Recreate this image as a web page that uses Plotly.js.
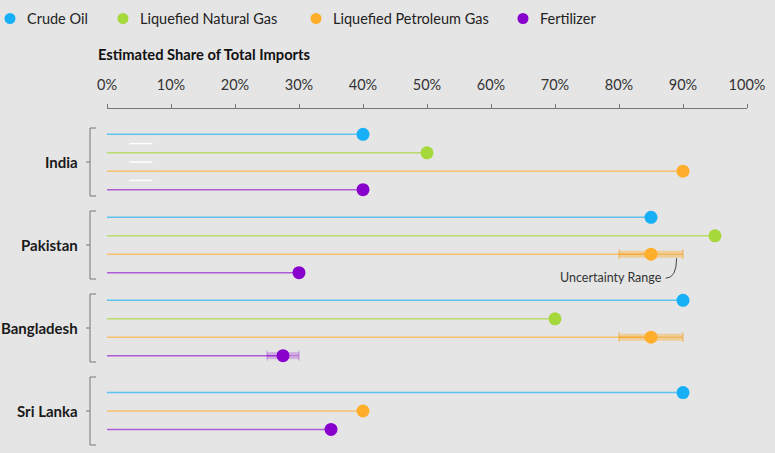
<!DOCTYPE html>
<html>
<head>
<meta charset="utf-8">
<script src="https://cdn.plot.ly/plotly-3.0.1.min.js"></script>
<style>
  html, body { margin: 0; padding: 0; background: #e5e5e5; }
  #chart { width: 775px; height: 453px; }
</style>
</head>
<body>
<div id="chart"></div>
<script>
// ---- data -------------------------------------------------------------
const countries = ['India', 'Pakistan', 'Bangladesh', 'Sri Lanka'];
const seriesNames = ['Crude Oil', 'Liquefied Natural Gas', 'Liquefied Petroleum Gas', 'Fertilizer'];

// estimated share of total imports (%), one value per country
const crudeOil     = [40, 85, 90, 90];
const naturalGas   = [50, 95, 70, null];
const petroleumGas = [90, 85, 85, 40];
const fertilizer   = [40, 30, 27.5, 35];

// uncertainty ranges (%)
const lpgLow   = [null, 80, 80, null];
const lpgHigh  = [null, 90, 90, null];
const fertLow  = [null, null, 25, null];
const fertHigh = [null, null, 30, null];

const xTickVals   = [0, 10, 20, 30, 40, 50, 60, 70, 80, 90, 100];
const xTickLabels = ['0%', '10%', '20%', '30%', '40%', '50%', '60%', '70%', '80%', '90%', '100%'];

// ---- styling ----------------------------------------------------------
const FONT = 'Lato, "Open Sans", sans-serif';
const dotColors  = ['#17b0f7', '#a5d83a', '#ffae2c', '#8800cc'];
const lineColors = ['rgba(23,176,247,0.65)', 'rgba(165,216,58,0.7)', 'rgba(255,174,44,0.65)', 'rgba(136,0,204,0.6)'];
const bandColors = [null, null, 'rgba(255,174,44,0.42)', 'rgba(136,0,204,0.24)'];
const capColors  = [null, null, 'rgba(240,160,40,0.7)', 'rgba(136,0,204,0.35)'];

const allSeries = [crudeOil, naturalGas, petroleumGas, fertilizer];
const lows  = [null, null, lpgLow, fertLow];
const highs = [null, null, lpgHigh, fertHigh];

// vertical layout: one unit per country group, rows stacked around the centre
const rowStep = 0.222;
const yRange = [3.506, -0.6386];           // reversed: first country at the top
const pxPerUnit = 83;

// row position of series s within country c (only series with a value take a row)
function rowY(c, s) {
  const present = allSeries.map((arr, i) => arr[c] != null ? i : -1).filter(i => i >= 0);
  const k = present.indexOf(s);
  return c + (k - (present.length - 1) / 2) * rowStep;
}
const toPaperY = v => (v - yRange[0]) / (yRange[1] - yRange[0]);

const traces = [];

// stems from 0 to each value
allSeries.forEach((vals, s) => {
  const x = [], y = [];
  vals.forEach((v, c) => {
    if (v == null) return;
    const yy = rowY(c, s);
    x.push(0, v, null); y.push(yy, yy, null);
  });
  traces.push({
    type: 'scatter', mode: 'lines', x, y, showlegend: false, hoverinfo: 'skip',
    line: { color: lineColors[s], width: 1.5 }, cliponaxis: false
  });
});

// uncertainty bands
allSeries.forEach((vals, s) => {
  if (!lows[s]) return;
  const x = [], y = [];
  vals.forEach((v, c) => {
    if (lows[s][c] == null) return;
    const yy = rowY(c, s);
    x.push(lows[s][c], highs[s][c], null); y.push(yy, yy, null);
  });
  traces.push({
    type: 'scatter', mode: 'lines', x, y, showlegend: false, hoverinfo: 'skip',
    line: { color: bandColors[s], width: 7 }, cliponaxis: false
  });
});

// dots with range end caps
allSeries.forEach((vals, s) => {
  const x = [], y = [], plus = [], minus = [];
  vals.forEach((v, c) => {
    if (v == null) return;
    x.push(v); y.push(rowY(c, s));
    if (lows[s] && lows[s][c] != null) {
      plus.push(highs[s][c] - v); minus.push(v - lows[s][c]);
    } else {
      plus.push(null); minus.push(null);
    }
  });
  const tr = {
    type: 'scatter', mode: 'markers', name: seriesNames[s], x, y, showlegend: false,
    marker: { color: dotColors[s], size: 13 },
    cliponaxis: false,
    hovertemplate: '%{x}%<extra>' + seriesNames[s] + '</extra>'
  };
  if (lows[s]) {
    tr.error_x = {
      type: 'data', symmetric: false, array: plus, arrayminus: minus,
      color: capColors[s], thickness: 1, width: 5, visible: true
    };
  }
  traces.push(tr);
});

// ---- labels, brackets, key ----------------------------------------------
const annotations = [];
const shapes = [];
const W = 775, H = 453;
const plotLeft = 107, plotWidth = 640, plotTop = 109, plotHeight = 344;
const pxToPaperX = px => (px - plotLeft) / plotWidth;
const pxToPaperY = py => 1 - (py - plotTop) / plotHeight;

countries.forEach((name, c) => {
  annotations.push({
    text: name, xref: 'paper', yref: 'y', x: pxToPaperX(80), y: c,
    xanchor: 'right', yanchor: 'middle', showarrow: false,
    font: { family: FONT, size: 15, color: '#1a1a1a', weight: 700 }
  });
  const half = 34 / pxPerUnit;
  const yt = toPaperY(c - half), yb = toPaperY(c + half), ym = toPaperY(c);
  const xb = pxToPaperX(90), xs = pxToPaperX(96), xt = pxToPaperX(86);
  shapes.push({
    type: 'path', xref: 'paper', yref: 'paper',
    path: `M ${xs},${yt} L ${xb},${yt} L ${xb},${yb} L ${xs},${yb} M ${xb},${ym} L ${xt},${ym}`,
    line: { color: '#777', width: 1 }
  });
});

// light separators between the rows of the first group
[0, 1, 2].forEach(i => {
  const yy = rowY(0, 0) + (i + 0.5) * rowStep;
  shapes.push({
    type: 'line', xref: 'x', yref: 'y', x0: 3.5, x1: 7.1, y0: yy, y1: yy,
    line: { color: '#ffffff', width: 1.5 }
  });
});

// key across the top: dot + name for every series
const keyDotX = [10, 123, 316, 523];
const keyY = 18.5;
seriesNames.forEach((name, s) => {
  shapes.push({
    type: 'circle', xref: 'paper', yref: 'paper',
    xsizemode: 'pixel', ysizemode: 'pixel',
    xanchor: pxToPaperX(keyDotX[s]), yanchor: pxToPaperY(keyY),
    x0: -5.5, x1: 5.5, y0: -5.5, y1: 5.5,
    fillcolor: dotColors[s], line: { width: 0 }
  });
  annotations.push({
    text: name, xref: 'paper', yref: 'paper',
    x: pxToPaperX(keyDotX[s] + 15), y: pxToPaperY(keyY), xanchor: 'left', yanchor: 'middle',
    showarrow: false, font: { family: FONT, size: 14.5, color: '#222' }
  });
});

// axis title
annotations.push({
  text: 'Estimated Share of Total Imports', xref: 'paper', yref: 'paper',
  x: pxToPaperX(96), y: pxToPaperY(54), xanchor: 'left', yanchor: 'middle',
  showarrow: false, font: { family: FONT, size: 14.7, color: '#111', weight: 700 }
});

// callout for the Pakistan LPG range
const calloutX = highs[2][1] - 1, calloutY = rowY(1, 2);
const ux = 1 / 6.4, uy = 1 / pxPerUnit;   // one pixel in data units
annotations.push({
  text: 'Uncertainty Range', xref: 'x', yref: 'y',
  x: calloutX - 13 * ux, y: calloutY + 23 * uy, xanchor: 'right', yanchor: 'middle',
  showarrow: false, font: { family: FONT, size: 12.5, color: '#333' }
});
shapes.push({
  type: 'path', xref: 'x', yref: 'y',
  path: `M ${calloutX - 11 * ux},${calloutY + 24 * uy} Q ${calloutX},${calloutY + 24 * uy} ${calloutX},${calloutY + 4 * uy}`,
  line: { color: '#444', width: 1 }
});

const layout = {
  width: W, height: H,
  paper_bgcolor: '#e5e5e5', plot_bgcolor: '#e5e5e5',
  margin: { l: plotLeft, r: W - plotLeft - plotWidth, t: plotTop, b: H - plotTop - plotHeight },
  font: { family: FONT, color: '#333' },
  showlegend: false,
  xaxis: {
    side: 'top', range: [0, 100], tickvals: xTickVals, ticktext: xTickLabels,
    ticks: 'outside', ticklen: 4, tickwidth: 1, tickcolor: '#777',
    showline: true, linecolor: '#777', linewidth: 1,
    showgrid: false, zeroline: false, ticklabelstandoff: 8,
    tickfont: { family: FONT, size: 14.5, color: '#333' }, fixedrange: true
  },
  yaxis: {
    range: yRange, showticklabels: false, showgrid: false, zeroline: false,
    showline: false, ticks: '', fixedrange: true
  },
  annotations, shapes
};

Plotly.newPlot('chart', traces, layout, { displayModeBar: false });
</script>
</body>
</html>
